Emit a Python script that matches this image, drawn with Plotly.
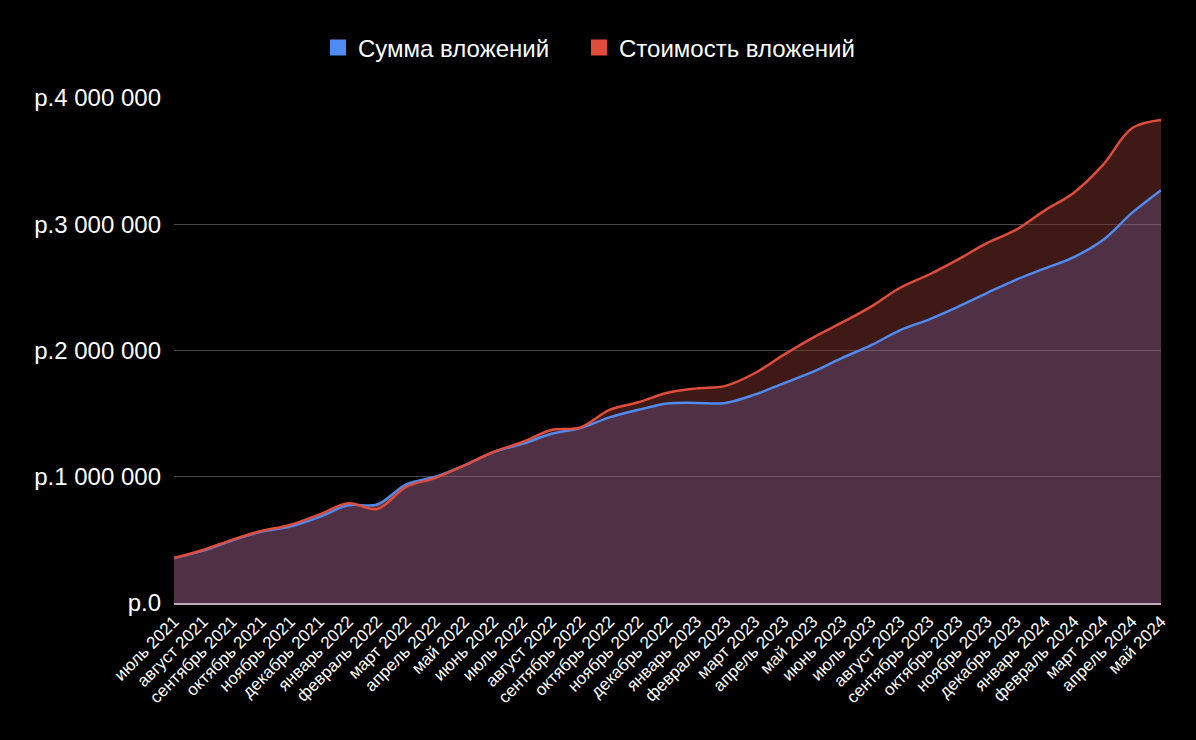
import plotly.graph_objects as go

months = [
    "июль 2021", "август 2021", "сентябрь 2021", "октябрь 2021", "ноябрь 2021", "декабрь 2021",
    "январь 2022", "февраль 2022", "март 2022", "апрель 2022", "май 2022", "июнь 2022",
    "июль 2022", "август 2022", "сентябрь 2022", "октябрь 2022", "ноябрь 2022", "декабрь 2022",
    "январь 2023", "февраль 2023", "март 2023", "апрель 2023", "май 2023", "июнь 2023",
    "июль 2023", "август 2023", "сентябрь 2023", "октябрь 2023", "ноябрь 2023", "декабрь 2023",
    "январь 2024", "февраль 2024", "март 2024", "апрель 2024", "май 2024",
]

invested = [
    356000, 415000, 495000, 565000, 605000, 680000,
    775000, 780000, 940000, 1000000, 1090000, 1195000,
    1260000, 1340000, 1385000, 1470000, 1530000, 1580000,
    1585000, 1585000, 1650000, 1740000, 1830000, 1940000,
    2040000, 2160000, 2245000, 2345000, 2455000, 2560000,
    2650000, 2740000, 2875000, 3090000, 3270000,
]

value = [
    356000, 420000, 500000, 570000, 618000, 700000,
    790000, 745000, 920000, 990000, 1090000, 1196000,
    1275000, 1370000, 1390000, 1530000, 1590000, 1665000,
    1700000, 1720000, 1820000, 1965000, 2100000, 2220000,
    2345000, 2495000, 2600000, 2720000, 2850000, 2955000,
    3110000, 3250000, 3470000, 3760000, 3825000,
]

tick_vals = [0, 1000000, 2000000, 3000000, 4000000]
tick_text = ["р.0", "р.1 000 000", "р.2 000 000", "р.3 000 000", "р.4 000 000"]

series_names = ["Сумма вложений", "Стоимость вложений"]
blue = "#4f8bf0"
red = "#df4d3d"

fig = go.Figure()

# lower (invested) area
fig.add_trace(go.Scatter(
    x=months, y=invested, mode="lines", fill="tozeroy",
    line=dict(color=blue, width=2.5, shape="spline", smoothing=1),
    fillcolor="rgba(160,96,136,0.5)", showlegend=False, hoverinfo="skip",
))
# band between invested and value
fig.add_trace(go.Scatter(
    x=months, y=value, mode="lines", fill="tonexty",
    line=dict(color=red, width=2.5, shape="spline", smoothing=1),
    fillcolor="rgba(124,50,44,0.5)", showlegend=False, hoverinfo="skip",
))

# legend entries (one legend each, to reproduce the spacing)
for name, col, lg in zip(series_names, [blue, red], ["legend", "legend2"]):
    fig.add_trace(go.Scatter(
        x=[None], y=[None], mode="markers", name=name, legend=lg,
        marker=dict(symbol="square", size=20, color=col),
    ))

legend_common = dict(
    orientation="h", xref="container", yref="container",
    xanchor="left", y=1 - 48 / 740, yanchor="middle",
    font=dict(size=24, color="#ffffff"), bgcolor="rgba(0,0,0,0)",
    itemclick=False,
)

fig.update_layout(
    width=1196, height=740,
    paper_bgcolor="#000000", plot_bgcolor="#000000",
    margin=dict(l=174, r=35, t=98, b=137),
    font=dict(family="Liberation Sans, Arial, sans-serif", color="#ffffff"),
    legend=dict(x=318 / 1196, **legend_common),
    legend2=dict(x=579 / 1196, **legend_common),
    showlegend=True,
)

fig.update_xaxes(
    type="category", range=[0, len(months) - 1],
    tickangle=-45, tickfont=dict(size=17, color="#ffffff"),
    showgrid=False, zeroline=False,
    showline=True, linecolor="#c3a9b9", linewidth=2, layer="above traces",
    ticks="",
)
fig.update_yaxes(
    range=[0, 4000000], tickvals=tick_vals, ticktext=tick_text,
    tickfont=dict(size=24, color="#ffffff"),
    showgrid=True, gridcolor="#4a4a4a", gridwidth=1,
    zeroline=False, ticks="", ticklabelstandoff=12,
)

fig.write_html("out.html")
